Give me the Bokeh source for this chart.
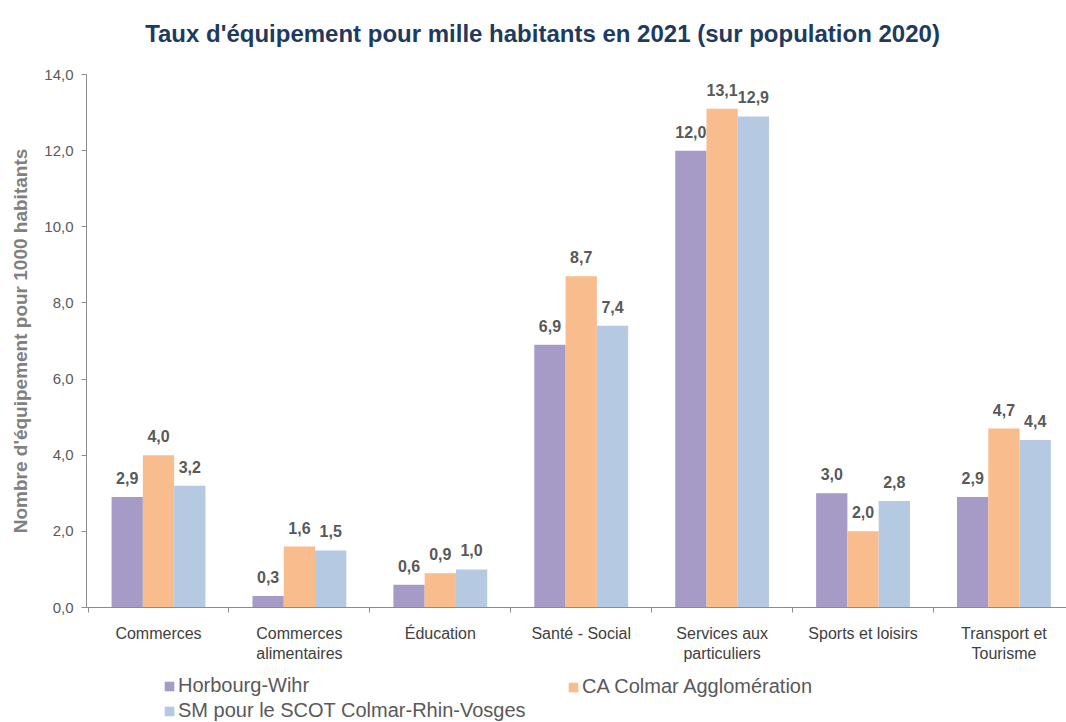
import numpy as np
from bokeh.plotting import figure
from bokeh.layouts import column
from bokeh.core.properties import value
from bokeh.models import (Range1d, FixedTicker, ColumnDataSource, LabelSet, Label,
                          Legend, LegendItem)
from bokeh.transform import dodge
from bokeh.embed import file_html
from bokeh.resources import INLINE

categories = ["Commerces", "Commerces\nalimentaires", "Éducation", "Santé - Social",
              "Services aux\nparticuliers", "Sports et loisirs", "Transport et\nTourisme"]
horbourg = [2.9, 0.3, 0.6, 6.9, 12.0, 3.0, 2.9]
ca_colmar = [4.0, 1.6, 0.9, 8.7, 13.1, 2.0, 4.7]
sm_scot = [3.2, 1.5, 1.0, 7.4, 12.9, 2.8, 4.4]
series_names = ["Horbourg-Wihr", "CA Colmar Agglomération", "SM pour le SCOT Colmar-Rhin-Vosges"]
y_ticks = [0, 2, 4, 6, 8, 10, 12, 14]
y_tick_labels = ["0,0", "2,0", "4,0", "6,0", "8,0", "10,0", "12,0", "14,0"]

title_text = "Taux d'équipement pour mille habitants en 2021 (sur population 2020)"
y_label = "Nombre d'équipement pour 1000 habitants"

colors = ["#A69BC7", "#F9BC8C", "#B5C9E3"]
FONT = "Liberation Sans"
bw = 0.222

def fmt(v):
    return f"{v:.1f}".replace(".", ",")

def strip(h, xr, yr):
    f = figure(width=1066, height=h, x_range=xr, y_range=yr,
               output_backend="svg", toolbar_location=None,
               x_axis_location=None, y_axis_location=None,
               min_border_left=0, min_border_right=0, min_border_top=0, min_border_bottom=0)
    f.outline_line_color = None
    f.xgrid.visible = False
    f.ygrid.visible = False
    return f

# title strip (its frame is aligned with the chart frame: x 86..1066 px)
ts = strip(60, Range1d(86, 1066), Range1d(0, 60))
ts.add_layout(Label(x=542, y=27, text=title_text, text_align="center", text_baseline="middle",
                    text_font=FONT, text_font_size="24px", text_font_style="bold",
                    text_color="#1F3A60"))

xs = list(range(len(categories)))
src = ColumnDataSource(dict(
    x=xs,
    h=horbourg, c=ca_colmar, s=sm_scot,
    ht=[fmt(v) for v in horbourg],
    ct=[fmt(v) for v in ca_colmar],
    st=[fmt(v) for v in sm_scot],
))

p = figure(width=1066, height=604, x_range=Range1d(-0.511, 6.444), y_range=Range1d(0, 14),
           output_backend="svg", toolbar_location=None,
           min_border_left=86, min_border_right=0, min_border_top=14, min_border_bottom=52)
p.outline_line_color = None
p.xgrid.visible = False
p.ygrid.visible = False

renderers = []
for col, off, color in [("h", -bw, colors[0]), ("c", 0, colors[1]), ("s", bw, colors[2])]:
    r = p.vbar(x=dodge("x", off, range=p.x_range), top=col, width=bw, source=src,
               fill_color=color, line_color=None)
    renderers.append(r)

for col, tcol, off in [("h", "ht", -bw), ("c", "ct", 0), ("s", "st", bw)]:
    lbl = LabelSet(x=dodge("x", off, range=p.x_range), y=col, text=tcol, source=src,
                   text_align="center", text_baseline="bottom", y_offset=13,
                   text_font=value(FONT), text_font_size=value("16px"),
                   text_font_style=value("bold"), text_color=value("#595959"))
    p.add_layout(lbl)

# y axis
ya = p.yaxis[0]
ya.ticker = FixedTicker(ticks=y_ticks, minor_ticks=[])
ya.major_label_overrides = {t: l for t, l in zip(y_ticks, y_tick_labels)}
ya.axis_line_color = "#8C8C8C"
ya.major_tick_line_color = "#8C8C8C"
ya.major_tick_out = 5
ya.major_tick_in = 0
ya.minor_tick_line_color = None
ya.major_label_text_font = FONT
ya.major_label_text_font_size = "15px"
ya.major_label_text_color = "#595959"
ya.major_label_standoff = 8
ya.axis_label = y_label
ya.axis_label_text_font = FONT
ya.axis_label_text_font_size = "19px"
ya.axis_label_text_font_style = "bold"
ya.axis_label_text_color = "#808080"
ya.axis_label_standoff = 10

# x axis
xa = p.xaxis[0]
xa.ticker = FixedTicker(ticks=xs, minor_ticks=[i + 0.5 for i in range(-1, len(categories))])
xa.major_label_overrides = {i: c for i, c in enumerate(categories)}
xa.axis_line_color = "#8C8C8C"
xa.major_tick_line_color = None
xa.minor_tick_line_color = "#8C8C8C"
xa.minor_tick_out = 5
xa.minor_tick_in = 0
xa.major_label_text_font = FONT
xa.major_label_text_font_size = "16px"
xa.major_label_text_color = "#404040"
xa.major_label_standoff = 11

# legend strip below the chart
lg = strip(58, Range1d(0, 1), Range1d(0, 1))
hidden = ColumnDataSource(dict(x=[0.5], top=[0.5]))
lrs = []
for c in colors:
    r = lg.vbar(x="x", top="top", width=0.1, source=hidden, fill_color=c, line_color=None)
    r.visible = False
    lrs.append(r)

common = dict(label_text_font=FONT, label_text_font_size="20px", label_text_color="#595959",
              glyph_width=12, glyph_height=12, label_standoff=3, spacing=2,
              border_line_color=None, background_fill_alpha=0, padding=0, margin=0)
legA = Legend(items=[LegendItem(label=series_names[0], renderers=[lrs[0]]),
                     LegendItem(label=series_names[2], renderers=[lrs[2]])],
              orientation="vertical", location=(77, 0), **common)
legB = Legend(items=[LegendItem(label=series_names[1], renderers=[lrs[1]])],
              orientation="vertical", location=(481, 24), **common)
lg.add_layout(legA)
lg.add_layout(legB)

layout = column(ts, p, lg, spacing=0)
open("out.html", "w").write(file_html(layout, INLINE))
